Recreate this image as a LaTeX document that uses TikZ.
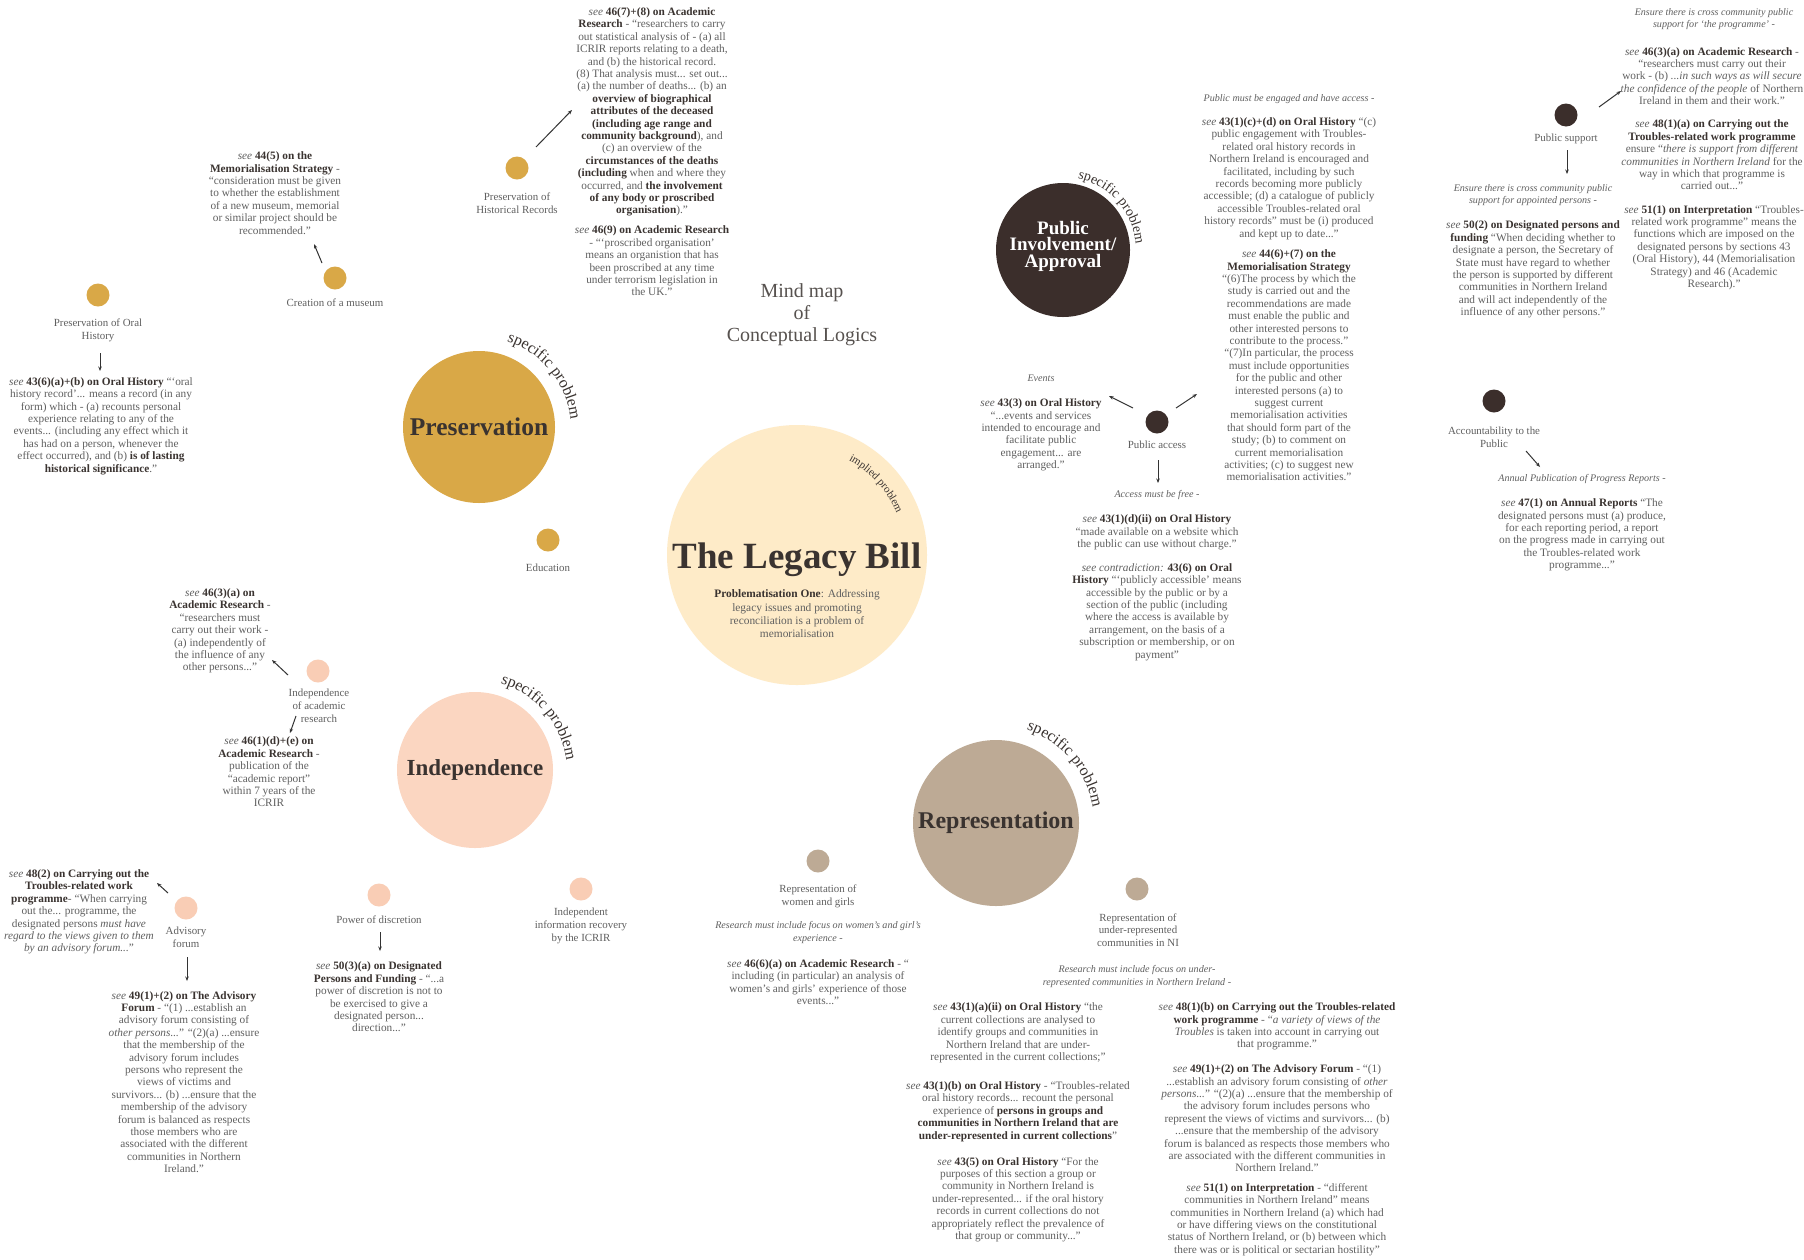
\documentclass[tikz,border=0pt]{standalone}
\usepackage{fontspec}
\setmainfont{Liberation Serif}
\usetikzlibrary{arrows.meta,decorations.text}
\definecolor{txtgrey}{HTML}{606060}
\definecolor{dk}{HTML}{3A3330}
\definecolor{gold}{HTML}{D9A847}
\definecolor{peach}{HTML}{FBD6C1}
\definecolor{peachdot}{HTML}{F9CDB5}
\definecolor{taupe}{HTML}{BDAA95}
\definecolor{brownd}{HTML}{3B2E2B}
\definecolor{cream}{HTML}{FEEBC8}
\newcommand\hb[1]{{\bfseries\color{dk}#1}}
\newcommand\sref{\textit{see}}
\newcommand\spfont{\fontsize{16}{16}\selectfont\color{dk}}
\newcommand\spfontsm{\fontsize{14}{14}\selectfont\color{dk}}
\newcommand\imfont{\fontsize{11}{11}\selectfont\color{dk}}
\tikzset{
  body/.style={align=center, inner sep=0pt, text=txtgrey, font=\fontsize{11.3}{12.4}\selectfont},
  lbl/.style={align=center, inner sep=0pt, text=txtgrey, font=\fontsize{10.9}{12.8}\selectfont},
  lead/.style={align=center, inner sep=0pt, text=txtgrey, font=\fontsize{10.1}{12.2}\selectfont\itshape},
  dotc/.style={circle, minimum size=23pt, inner sep=0pt},
  bigc/.style={circle, inner sep=0pt, font=\fontsize{24}{26}\selectfont\bfseries, text=dk},
  arr/.style={-{Stealth[length=4.5pt,width=3.5pt]}, line width=1pt, draw=black!80},
}
\newcommand\curvedlabel[6]{% cx, cy, r, from, to, text
  \begin{scope}[transform canvas={shift={(#1,#2)}}]
    \path[decorate, decoration={text along path, text align=center, text={#6}}]
      plot[variable=\t, domain=#4:#5, samples=45] ({#3*cos(\t)}, {#3*sin(\t)});
  \end{scope}}
\begin{document}
\begin{tikzpicture}[x=1pt,y=-1pt]
\fill[white] (0,0) rectangle (1804,1259);
\useasboundingbox (0,0) rectangle (1804,1259);

% ---------- big circles ----------
\node[circle, fill=cream, minimum size=260pt, inner sep=0pt] (legacy) at (797,555) {};
\node[bigc, fill=gold, minimum size=152pt, font=\fontsize{25.5}{27}\selectfont\bfseries] (pres) at (479,427) {Preservation};
\node[bigc, fill=peach, minimum size=156pt, font=\fontsize{23}{25}\selectfont\bfseries] (indep) at (475,770) {Independence};
\node[bigc, fill=taupe, minimum size=166pt] (repr) at (996,823) {Representation};
\node[circle, fill=brownd, minimum size=134pt, inner sep=0pt] (pub) at (1063,250) {};
\node[font=\fontsize{19}{16.5}\selectfont\bfseries, text=white, align=center, inner sep=0pt] (pubt) at (1063,246) {Public\\ Involvement/\\ Approval};

% curved labels
\curvedlabel{479}{429}{92}{-80}{2}{|\spfont|specific problem}
\curvedlabel{475}{772}{92}{-79}{-2}{|\spfont|specific problem}
\curvedlabel{996}{823}{98}{-79}{-2}{|\spfont|specific problem}
\curvedlabel{1063}{250}{73}{-84}{1}{|\spfontsm|specific problem}
\curvedlabel{797}{555}{108}{-66}{-18}{|\imfont|implied problem}

% ---------- centre ----------
\node[font=\fontsize{37}{40}\selectfont\bfseries, text=dk, inner sep=0pt] (title) at (797,560) {The Legacy Bill};
\node[align=center, inner sep=0pt, font=\fontsize{11.4}{13.3}\selectfont, text=txtgrey] (sub) at (797,614) {\hb{Problematisation One}: Addressing\\ legacy issues and promoting\\ reconciliation is a problem of\\ memorialisation};
\node[align=center, inner sep=0pt, font=\fontsize{20}{22}\selectfont, text=dk!85] (mm) at (802,315) {Mind map\\ of\\ Conceptual Logics};

% ---------- Preservation group ----------
\node[dotc, fill=gold] (dhist) at (517,168) {};
\node[lbl] (lhist) at (517,203) {Preservation of\\ Historical Records};
\coordinate (ahs) at (536,147); \coordinate (ahe) at (572,110);
\draw[arr] (ahs) -- (ahe);
\node[body] (t467) at (652,112) {\sref{} \hb{46(7)+(8) on Academic}\\ \hb{Research} - “researchers to carry\\ out statistical analysis of - (a) all\\ ICRIR reports relating to a death,\\ and (b) the historical record.\\ (8) That analysis must... set out...\\ (a) the number of deaths... (b) an\\ \hb{overview of biographical}\\ \hb{attributes of the deceased}\\ \hb{(including age range and}\\ \hb{community background}), and\\ (c) an overview of the\\ \hb{circumstances of the deaths}\\ \hb{(including} when and where they\\ occurred, and \hb{the involvement}\\ \hb{of any body or proscribed}\\ \hb{organisation}).”};
\node[body] (t469) at (652,261) {\sref{} \hb{46(9) on Academic Research}\\ - “‘proscribed organisation’\\ means an organistion that has\\ been proscribed at any time\\ under terrorism legislation in\\ the UK.”};

\node[dotc, fill=gold] (dmus) at (335,278) {};
\node[lbl] (lmus) at (335,303) {Creation of a museum};
\coordinate (ams) at (322,263); \coordinate (ame) at (314,244);
\draw[arr] (ams) -- (ame);
\node[body] (t445) at (275,193) {\sref{} \hb{44(5) on the}\\ \hb{Memorialisation Strategy} -\\ “consideration must be given\\ to whether the establishment\\ of a new museum, memorial\\ or similar project should be\\ recommended.”};

\node[dotc, fill=gold] (doral) at (98,295) {};
\node[lbl] (loral) at (98,330) {Preservation of Oral\\ History};
\coordinate (aos) at (100,353); \coordinate (aoe) at (100,371);
\draw[arr] (aos) -- (aoe);
\node[body] (t436) at (101,426) {\sref{} \hb{43(6)(a)+(b) on Oral History} “‘oral\\ history record’... means a record (in any\\ form) which - (a) recounts personal\\ experience relating to any of the\\ events... (including any effect which it\\ has had on a person, whenever the\\ effect occurred), and (b) \hb{is of lasting}\\ \hb{historical significance}.”};

\node[dotc, fill=gold] (dedu) at (548,540) {};
\node[lbl] (ledu) at (548,568) {Education};

% ---------- Independence group ----------
\node[dotc, fill=peachdot] (dacad) at (318,671) {};
\node[lbl] (lacad) at (319,706) {Independence\\ of academic\\ research};
\coordinate (aas) at (288,675); \coordinate (aae) at (272,660);
\draw[arr] (aas) -- (aae);
\node[body] (t463a) at (220,631) {\sref{} \hb{46(3)(a) on}\\ \hb{Academic Research} -\\ “researchers must\\ carry out their work -\\ (a) independently of\\ the influence of any\\ other persons...”};
\coordinate (abs) at (296,716); \coordinate (abe) at (290,733);
\draw[arr] (abs) -- (abe);
\node[body] (t461) at (269,772) {\sref{} \hb{46(1)(d)+(e) on}\\ \hb{Academic Research} -\\ publication of the\\ “academic report”\\ within 7 years of the\\ ICRIR};

\node[dotc, fill=peachdot] (dadv) at (186,908) {};
\node[lbl] (ladv) at (186,937) {Advisory\\ forum};
\coordinate (avs) at (168,893); \coordinate (ave) at (157,883);
\draw[arr] (avs) -- (ave);
\node[body] (t482) at (79,912) {\sref{} \hb{48(2) on Carrying out the}\\ \hb{Troubles-related work}\\ \hb{programme}- “When carrying\\ out the... programme, the\\ designated persons \textit{must have}\\ \textit{regard to the views given to them}\\ \textit{by an advisory forum...}”};
\coordinate (avds) at (187,957); \coordinate (avde) at (187,981);
\draw[arr] (avds) -- (avde);
\node[body] (t491l) at (184,1082) {\sref{} \hb{49(1)+(2) on The Advisory}\\ \hb{Forum} - “(1) ...establish an\\ advisory forum consisting of\\ \textit{other persons...}” “(2)(a) ...ensure\\ that the membership of the\\ advisory forum includes\\ persons who represent the\\ views of victims and\\ survivors... (b) ...ensure that the\\ membership of the advisory\\ forum is balanced as respects\\ those members who are\\ associated with the different\\ communities in Northern\\ Ireland.”};

\node[dotc, fill=peachdot] (dpow) at (379,895) {};
\node[lbl] (lpow) at (379,920) {Power of discretion};
\coordinate (aps) at (380,932); \coordinate (ape) at (380,951);
\draw[arr] (aps) -- (ape);
\node[body] (t503) at (379,997) {\sref{} \hb{50(3)(a) on Designated}\\ \hb{Persons and Funding} - “...a\\ power of discretion is not to\\ be exercised to give a\\ designated person...\\ direction...”};

\node[dotc, fill=peachdot] (drec) at (581,889) {};
\node[lbl] (lrec) at (581,926) {Independent\\ information recovery\\ by the ICRIR};

% ---------- Representation group ----------
\node[dotc, fill=taupe] (dwom) at (818,861) {};
\node[lbl] (lwom) at (818,896) {Representation of\\ women and girls};
\node[lead] (iwom) at (818,932.5) {Research must include focus on women’s and girl’s\\ experience -};
\node[body] (t466) at (818,982) {\sref{} \hb{46(6)(a) on Academic Research} - “\\ including (in particular) an analysis of\\ women’s and girls’ experience of those\\ events...”};

\node[dotc, fill=taupe] (dund) at (1137,889) {};
\node[lbl] (lund) at (1138,930) {Representation of\\ under-represented\\ communities in NI};
\node[lead] (iund) at (1137,976.5) {Research must include focus on under-\\ represented communities in Northern Ireland -};

\node[body] (t431a) at (1018,1033) {\sref{} \hb{43(1)(a)(ii) on Oral History} “the\\ current collections are analysed to\\ identify groups and communities in\\ Northern Ireland that are under-\\ represented in the current collections;”};
\node[body] (t431b) at (1018,1111.5) {\sref{} \hb{43(1)(b) on Oral History} - “Troubles-related\\ oral history records... recount the personal\\ experience of \hb{persons in groups and}\\ \hb{communities in Northern Ireland that are}\\ \hb{under-represented in current collections}”};
\node[body] (t435) at (1018,1199.5) {\sref{} \hb{43(5) on Oral History} “For the\\ purposes of this section a group or\\ community in Northern Ireland is\\ under-represented... if the oral history\\ records in current collections do not\\ appropriately reflect the prevalence of\\ that group or community...”};

\node[body] (t481b) at (1277,1026.5) {\sref{} \hb{48(1)(b) on Carrying out the Troubles-related}\\ \hb{work programme} - “\textit{a variety of views of the}\\ \textit{Troubles} is taken into account in carrying out\\ that programme.”};
\node[body] (t491r) at (1277,1118.5) {\sref{} \hb{49(1)+(2) on The Advisory Forum} - “(1)\\ ...establish an advisory forum consisting of \textit{other}\\ \textit{persons...}” “(2)(a) ...ensure that the membership of\\ the advisory forum includes persons who\\ represent the views of victims and survivors... (b)\\ ...ensure that the membership of the advisory\\ forum is balanced as respects those members who\\ are associated with the different communities in\\ Northern Ireland.”};
\node[body] (t511r) at (1277,1219.5) {\sref{} \hb{51(1) on Interpretation} - “different\\ communities in Northern Ireland” means\\ communities in Northern Ireland (a) which had\\ or have differing views on the constitutional\\ status of Northern Ireland, or (b) between which\\ there was or is political or sectarian hostility”};

% ---------- Public involvement group ----------
\node[dotc, fill=brownd] (dacc) at (1157,422) {};
\node[lbl] (lacc) at (1157,445) {Public access};
\coordinate (ac1s) at (1133,408); \coordinate (ac1e) at (1109,396);
\draw[arr] (ac1s) -- (ac1e);
\coordinate (ac2s) at (1176,408); \coordinate (ac2e) at (1197,394);
\draw[arr] (ac2s) -- (ac2e);
\coordinate (ac3s) at (1158,460); \coordinate (ac3e) at (1158,483);
\draw[arr] (ac3s) -- (ac3e);
\node[lead] (iev) at (1041,378) {Events};
\node[body] (t433) at (1041,435) {\sref{} \hb{43(3) on Oral History}\\ “...events and services\\ intended to encourage and\\ facilitate public\\ engagement... are\\ arranged.”};
\node[lead] (ifree) at (1157,495) {Access must be free -};
\node[body] (t431d) at (1157,532.5) {\sref{} \hb{43(1)(d)(ii) on Oral History}\\ “made available on a website which\\ the public can use without charge.”};
\node[body] (t436c) at (1157,612) {\textit{see contradiction:} \hb{43(6) on Oral}\\ \hb{History} “‘publicly accessible’ means\\ accessible by the public or by a\\ section of the public (including\\ where the access is available by\\ arrangement, on the basis of a\\ subscription or membership, or on\\ payment”};

\node[lead] (ieng) at (1289,99) {Public must be engaged and have access -};
\node[body] (t431c) at (1289,178.5) {\sref{} \hb{43(1)(c)+(d) on Oral History} “(c)\\ public engagement with Troubles-\\ related oral history records in\\ Northern Ireland is encouraged and\\ facilitated, including by such\\ records becoming more publicly\\ accessible; (d) a catalogue of publicly\\ accessible Troubles-related oral\\ history records” must be (i) produced\\ and kept up to date...”};
\node[body] (t446) at (1289,365.5) {\sref{} \hb{44(6)+(7) on the}\\ \hb{Memorialisation Strategy}\\ “(6)The process by which the\\ study is carried out and the\\ recommendations are made\\ must enable the public and\\ other interested persons to\\ contribute to the process.”\\ “(7)In particular, the process\\ must include opportunities\\ for the public and other\\ interested persons (a) to\\ suggest current\\ memorialisation activities\\ that should form part of the\\ study; (b) to comment on\\ current memorialisation\\ activities; (c) to suggest new\\ memorialisation activities.”};

\node[dotc, fill=brownd] (dsup) at (1566,115) {};
\node[lbl] (lsup) at (1566,139) {Public support};
\coordinate (as1s) at (1567,150); \coordinate (as1e) at (1567,174);
\draw[arr] (as1s) -- (as1e);
\coordinate (as2s) at (1599,107); \coordinate (as2e) at (1621,91);
\draw[arr] (as2s) -- (as2e);
\node[lead] (iapp) at (1533,195) {Ensure there is cross community public\\ support for appointed persons -};
\node[body] (t502) at (1533,269.5) {\sref{} \hb{50(2) on Designated persons and}\\ \hb{funding} “When deciding whether to\\ designate a person, the Secretary of\\ State must have regard to whether\\ the person is supported by different\\ communities in Northern Ireland\\ and will act independently of the\\ influence of any other persons.”};

\node[lead] (iprog) at (1714,19) {Ensure there is cross community public\\ support for ‘the programme’ -};
\node[body] (t463r) at (1712,76) {\sref{} \hb{46(3)(a) on Academic Research} -\\ “researchers must carry out their\\ work - (b) \textit{...in such ways as will secure}\\ \textit{the confidence of the people} of Northern\\ Ireland in them and their work.”};
\node[body] (t481a) at (1712,155) {\sref{} \hb{48(1)(a) on Carrying out the}\\ \hb{Troubles-related work programme}\\ ensure “\textit{there is support from different}\\ \textit{communities in Northern Ireland} for the\\ way in which that programme is\\ carried out...”};
\node[body] (t511t) at (1714,247.5) {\sref{} \hb{51(1) on Interpretation} “Troubles-\\ related work programme” means the\\ functions which are imposed on the\\ designated persons by sections 43\\ (Oral History), 44 (Memorialisation\\ Strategy) and 46 (Academic\\ Research).”};

\node[dotc, fill=brownd] (dacct) at (1494,401) {};
\node[lbl] (lacct) at (1494,437) {Accountability to the\\ Public};
\coordinate (aus) at (1526,451); \coordinate (aue) at (1540,467);
\draw[arr] (aus) -- (aue);
\node[lead] (iann) at (1582,479) {Annual Publication of Progress Reports -};
\node[body] (t471) at (1582,535) {\sref{} \hb{47(1) on Annual Reports} “The\\ designated persons must (a) produce,\\ for each reporting period, a report\\ on the progress made in carrying out\\ the Troubles-related work\\ programme...”};
\end{tikzpicture}
\end{document}
